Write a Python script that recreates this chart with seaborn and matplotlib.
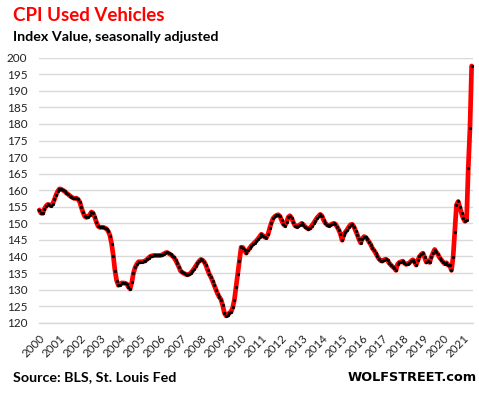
import numpy as np
import pandas as pd
import matplotlib
matplotlib.use("Agg")
import matplotlib.pyplot as plt
import seaborn as sns

# CPI Used Vehicles, index value, seasonally adjusted, monthly Jan 2000 - Jun 2021
y2000 = [154.0, 153.1, 153.0, 154.3, 155.2, 155.7, 155.6, 155.3, 155.9, 157.2, 158.6, 159.7]
y2001 = [160.4, 160.3, 160.0, 159.7, 159.2, 158.8, 158.4, 158.0, 157.7, 157.5, 157.6, 157.3]
y2002 = [156.5, 154.8, 153.3, 152.1, 151.8, 152.0, 152.6, 153.4, 153.1, 151.8, 150.3, 149.1]
y2003 = [148.8, 148.8, 148.8, 148.6, 148.3, 147.6, 146.3, 143.8, 140.2, 135.7, 132.7, 131.3]
y2004 = [131.5, 132.0, 132.0, 131.9, 131.7, 130.8, 130.2, 132.2, 135.0, 136.7, 137.7, 138.4]
y2005 = [138.4, 138.4, 138.5, 138.7, 139.1, 139.6, 140.0, 140.2, 140.3, 140.3, 140.3, 140.3]
y2006 = [140.3, 140.5, 140.8, 141.1, 141.2, 140.9, 140.6, 140.2, 139.7, 138.9, 137.9, 136.8]
y2007 = [135.6, 135.2, 134.9, 134.6, 134.5, 134.6, 135.0, 135.6, 136.3, 137.1, 137.9, 138.6]
y2008 = [139.1, 138.9, 138.4, 137.4, 136.0, 134.7, 133.8, 132.6, 131.3, 130.0, 128.7, 127.8]
y2009 = [127.0, 125.3, 123.0, 122.1, 122.2, 123.0, 123.3, 124.6, 127.0, 130.9, 134.8, 138.5]
y2010 = [142.8, 142.7, 141.8, 141.0, 141.8, 142.5, 143.2, 143.7, 144.2, 144.7, 145.3, 146.0]
y2011 = [146.7, 146.3, 145.8, 145.7, 146.7, 148.6, 150.2, 151.5, 152.1, 152.4, 152.6, 152.2]
y2012 = [151.0, 149.8, 149.3, 150.3, 151.9, 152.3, 151.6, 150.3, 149.3, 149.0, 149.3, 149.6]
y2013 = [150.0, 149.6, 149.0, 148.6, 148.3, 148.6, 149.3, 150.0, 150.8, 151.6, 152.2, 152.7]
y2014 = [152.3, 151.0, 150.1, 149.6, 149.3, 149.5, 149.8, 150.0, 149.8, 149.0, 148.0, 146.8]
y2015 = [144.9, 146.6, 147.4, 148.1, 148.9, 149.6, 149.7, 149.0, 147.8, 146.6, 145.2, 144.1]
y2016 = [145.3, 146.0, 145.8, 145.2, 144.4, 143.6, 142.5, 141.8, 141.0, 140.0, 139.2, 138.7]
y2017 = [138.6, 139.0, 139.2, 138.8, 138.0, 137.4, 136.9, 136.5, 135.8, 137.7, 138.2, 138.4]
y2018 = [138.6, 138.0, 137.6, 137.8, 138.1, 138.6, 139.0, 138.4, 137.4, 138.8, 140.0, 140.6]
y2019 = [141.0, 139.8, 138.3, 138.6, 138.2, 139.8, 141.0, 142.1, 141.3, 140.6, 139.6, 139.0]
y2020 = [138.3, 137.8, 138.1, 137.4, 137.3, 135.8, 139.9, 147.5, 155.6, 156.6, 154.8, 153.0]
y2021 = [151.5, 150.6, 151.1, 166.8, 178.7, 197.5]

year_labels = [str(y) for y in range(2000, 2022)]

values = (y2000 + y2001 + y2002 + y2003 + y2004 + y2005 + y2006 + y2007 + y2008
          + y2009 + y2010 + y2011 + y2012 + y2013 + y2014 + y2015 + y2016 + y2017
          + y2018 + y2019 + y2020 + y2021)

df = pd.DataFrame({"month": np.arange(len(values)), "value": values})

sns.set_style("white")
plt.rcParams["font.family"] = ["Lato", "DejaVu Sans"]

fig = plt.figure(figsize=(4.79, 3.99), dpi=100)
ax = fig.add_axes([0.082, 0.1912, 0.9065, 0.6642])

sns.lineplot(data=df, x="month", y="value", ax=ax, color="#ff0000",
             linewidth=3.4, marker="o", markersize=2.3,
             markerfacecolor="black", markeredgecolor="black",
             markeredgewidth=0, clip_on=False, zorder=3)

ax.set_ylim(120, 200)
ax.set_xlim(0, 258.1)
ax.set_yticks(np.arange(120, 201, 5))
ax.yaxis.grid(True, color="#d9d9d9", linewidth=1)
ax.xaxis.grid(False)
ax.set_xticks(np.arange(0, 12 * len(year_labels), 12))
ax.set_xticklabels(year_labels, rotation=45, ha="right", rotation_mode="anchor")
ax.set_xlabel("")
ax.set_ylabel("")

for s in ["top", "right", "left"]:
    ax.spines[s].set_visible(False)
ax.spines["bottom"].set_color("#d9d9d9")
ax.spines["bottom"].set_linewidth(1)

ax.tick_params(axis="x", length=5, width=1, color="#d9d9d9", pad=2,
               labelsize=8.3, labelcolor="#222222")
ax.tick_params(axis="y", length=0, pad=8.5, labelsize=8.5, labelcolor="#222222")

fig.text(0.027, 0.948, "CPI Used Vehicles", color="#ff0000", fontsize=13.5,
         fontweight="bold", va="baseline", ha="left")
fig.text(0.027, 0.898, "Index Value, seasonally adjusted", color="black",
         fontsize=10.3, fontweight="bold", va="baseline", ha="left")
fig.text(0.027, 0.045, "Source: BLS, St. Louis Fed", color="black",
         fontsize=10.3, fontweight="bold", va="baseline", ha="left")
fig.text(0.995, 0.045, "WOLFSTREET.com", color="black", family="DejaVu Sans",
         fontsize=9.3, fontweight="bold", va="baseline", ha="right")

fig.savefig("out.png", dpi=100)
